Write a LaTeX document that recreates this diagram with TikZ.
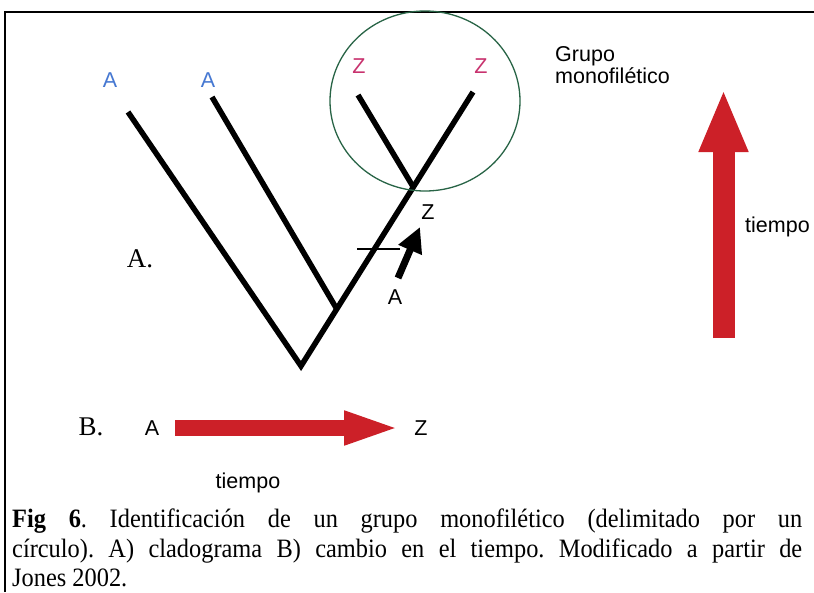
\documentclass[tikz,border=0pt]{standalone}
\usepackage{fontspec}
\setmainfont{Liberation Serif}
\newfontfamily\arialf{Liberation Sans}
\newfontfamily\capfont[FakeStretch=0.92]{Liberation Serif}
\usetikzlibrary{arrows.meta,shapes.geometric,calc}
\definecolor{labblue}{RGB}{70,120,210}
\definecolor{labmag}{RGB}{200,50,110}
\definecolor{arrred}{RGB}{204,32,40}
\definecolor{circgreen}{RGB}{40,100,70}
\frenchspacing
\begin{document}
\begin{tikzpicture}[x=1pt,y=-1pt,
  branch/.style={line width=5.5pt},
  sanslab/.style={font=\arialf\fontsize{21.5}{22}\selectfont, inner sep=0pt},
  seriflab/.style={font=\fontsize{27}{30}\selectfont, inner sep=0pt},
  capline/.style={anchor=base west, inner sep=0pt, font=\capfont\fontsize{26.5}{30}\selectfont},
  thinline/.style={line width=1.5pt}]
\useasboundingbox (0,0) rectangle (814,592);
\fill[white] (0,0) rectangle (814,592);
% frame
\coordinate (fbl) at (5,592);
\coordinate (ftl) at (5,12);
\coordinate (ftr) at (814,12);
\draw[thinline] (fbl) -- (ftl) -- (ftr);
% tree
\coordinate (root) at (301,366);
\coordinate (tA1) at (128,112);
\coordinate (tA2) at (212,97);
\coordinate (tZ1) at (358,95);
\coordinate (tZ2) at (473,92);
\coordinate (nA) at ($(root)!0.208!(tZ2)$);
\coordinate (nZ) at ($(root)!0.653!(tZ2)$);
\draw[branch] (tA1) -- (root) -- (tZ2);
\draw[branch] (tA2) -- (nA);
\draw[branch] (tZ1) -- (nZ);
% circle
\node[ellipse, draw=circgreen, line width=1.3pt, minimum width=190pt, minimum height=180pt, inner sep=0pt] (grp) at (425,101) {};
% leaf labels
\node[sanslab, text=labblue] (lA1) at (110,80) {A};
\node[sanslab, text=labblue] (lA2) at (208,80) {A};
\node[sanslab, text=labmag] (lZ1) at (359,66) {Z};
\node[sanslab, text=labmag] (lZ2) at (481,66) {Z};
% tick and small arrow
\coordinate (tk1) at (357,249);
\coordinate (tk2) at (400,249);
\draw[thinline] (tk1) -- (tk2);
\coordinate (sa1) at (398,278);
\coordinate (sa2) at (420,227);
\draw[line width=7pt, -{Triangle[length=25pt,width=24pt]}] (sa1) -- (sa2);
\node[sanslab] (sZ) at (428,212) {Z};
\node[sanslab] (sA) at (395,297) {A};
\node[seriflab] (labA) at (140,259) {A.};
% group label
\node[sanslab, anchor=base west] (g1) at (555,61) {Grupo};
\node[sanslab, anchor=base west] (g2) at (555,83) {monofilético};
% vertical time arrow
\coordinate (vb) at (723.5,338);
\coordinate (vt) at (723.5,89);
\draw[line width=22pt, arrred, -{Triangle[length=63pt,width=45pt]}] (vb) -- (vt);
\node[sanslab, anchor=west] (tv) at (745,227) {tiempo};
% B row
\node[seriflab] (labB) at (91,427) {B.};
\node[sanslab] (bA) at (152,428) {A};
\node[sanslab] (bZ) at (421,428) {Z};
\draw[line width=16pt, arrred, -{Triangle[length=57pt,width=30pt]}, shorten <=16pt, shorten >=13pt] (bA.east) -- (bZ.west);
\node[sanslab] (th) at (248,483) {tiempo};
% caption
\node[capline] (cap1) at (12,527) {\makebox[790pt][s]{\textbf{Fig 6}. Identificación de un grupo monofilético (delimitado por un}};
\node[capline] (cap2) at (12,557) {\makebox[790pt][s]{círculo). A) cladograma B) cambio en el tiempo. Modificado a partir de}};
\node[capline] (cap3) at (12,586) {Jones 2002.};
\end{tikzpicture}
\end{document}
